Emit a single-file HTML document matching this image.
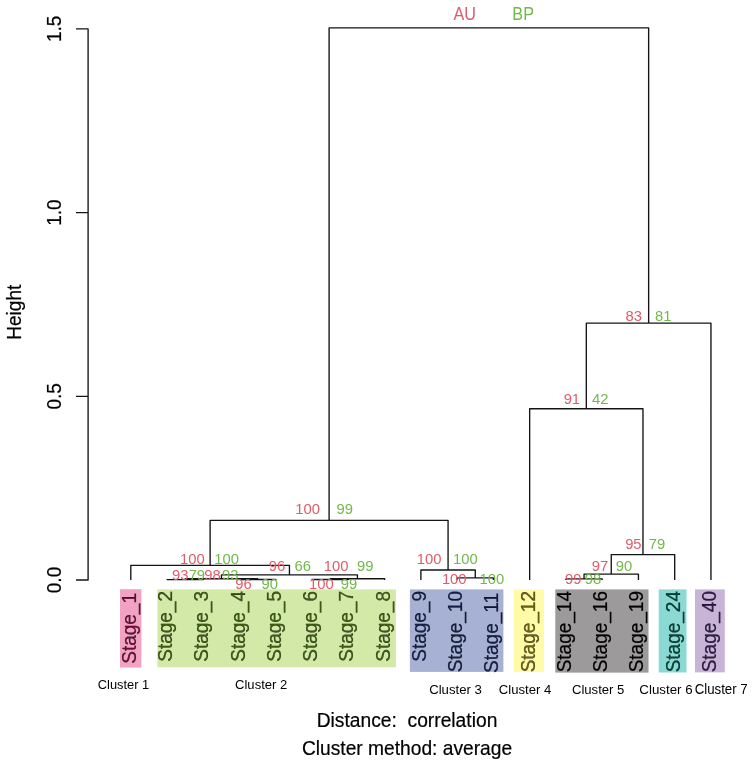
<!DOCTYPE html><html><head><meta charset="utf-8"><style>html,body{margin:0;padding:0;background:#fff;}svg{display:block;will-change:transform;}text{font-family:"Liberation Sans",sans-serif;}.d{stroke:#000;stroke-width:0.2px;}</style></head><body>
<svg width="754" height="767" viewBox="0 0 754 767">
<rect x="120.0" y="589.2" width="21.40" height="78.40" fill="#F4A2C4"/>
<rect x="157.4" y="589.4" width="238.50" height="77.90" fill="#D3E9A8"/>
<rect x="409.9" y="589.4" width="93.50" height="82.50" fill="#A6B1D4"/>
<rect x="513.7" y="589.4" width="30.30" height="82.50" fill="#FFFBA6"/>
<rect x="555.3" y="589.4" width="93.20" height="83.20" fill="#9C9A9B"/>
<rect x="658.7" y="589.4" width="27.80" height="83.10" fill="#8ADAD3"/>
<rect x="695.0" y="589.4" width="29.80" height="83.00" fill="#C8B4D7"/>
<path d="M167.06 580.00V579.60H203.32V580.00M239.58 580.00V579.50H275.84V580.00M185.19 579.60V578.70H257.71V579.50M312.10 580.00V579.50H348.36V580.00M330.23 579.50V578.70H384.62V580.00M221.45 578.70V574.90H357.43V578.70M130.80 580.00V565.35H289.44V574.90M457.14 580.00V577.80H493.40V580.00M420.88 580.00V570.00H475.27V577.80M210.12 565.35V520.35H448.07V570.00M565.92 580.00V578.90H602.18V580.00M584.05 578.90V574.10H638.44V580.00M611.25 574.10V554.60H674.70V580.00M529.66 580.00V408.70H642.97V554.60M586.32 408.70V323.15H710.96V580.00M329.10 520.35V27.90H648.64V323.15" fill="none" stroke="#141414" stroke-width="1.35" stroke-linecap="butt" stroke-linejoin="round"/>
<path d="M76 28.9H88.1V580.0H76M88.1 212.6H76M88.1 396.3H76" fill="none" stroke="#141414" stroke-width="1.35" stroke-linejoin="round"/>
<text transform="translate(60.8 28.9) rotate(-90) scale(1 1.05)" text-anchor="middle" font-size="19" class="d">1.5</text>
<text transform="translate(60.8 212.6) rotate(-90) scale(1 1.05)" text-anchor="middle" font-size="19" class="d">1.0</text>
<text transform="translate(60.8 396.3) rotate(-90) scale(1 1.05)" text-anchor="middle" font-size="19" class="d">0.5</text>
<text transform="translate(60.8 580.0) rotate(-90) scale(1 1.05)" text-anchor="middle" font-size="19" class="d">0.0</text>
<text transform="translate(20.7 312.2) rotate(-90) scale(1 1.05)" text-anchor="middle" font-size="19.1" class="d">Height</text>
<text transform="translate(135.80 593.0) rotate(-90) scale(1 1.05)" text-anchor="end" font-size="19" fill="#6A1038" stroke="#6A1038" class="d">Stage_1</text>
<text transform="translate(172.06 591) rotate(-90) scale(1 1.05)" text-anchor="end" font-size="19" fill="#3D5C14" stroke="#3D5C14" class="d">Stage_2</text>
<text transform="translate(208.32 591) rotate(-90) scale(1 1.05)" text-anchor="end" font-size="19" fill="#3D5C14" stroke="#3D5C14" class="d">Stage_3</text>
<text transform="translate(244.58 591) rotate(-90) scale(1 1.05)" text-anchor="end" font-size="19" fill="#3D5C14" stroke="#3D5C14" class="d">Stage_4</text>
<text transform="translate(280.84 591) rotate(-90) scale(1 1.05)" text-anchor="end" font-size="19" fill="#3D5C14" stroke="#3D5C14" class="d">Stage_5</text>
<text transform="translate(317.10 591) rotate(-90) scale(1 1.05)" text-anchor="end" font-size="19" fill="#3D5C14" stroke="#3D5C14" class="d">Stage_6</text>
<text transform="translate(353.36 591) rotate(-90) scale(1 1.05)" text-anchor="end" font-size="19" fill="#3D5C14" stroke="#3D5C14" class="d">Stage_7</text>
<text transform="translate(389.62 591) rotate(-90) scale(1 1.05)" text-anchor="end" font-size="19" fill="#3D5C14" stroke="#3D5C14" class="d">Stage_8</text>
<text transform="translate(425.88 591) rotate(-90) scale(1 1.05)" text-anchor="end" font-size="19" fill="#141E46" stroke="#141E46" class="d">Stage_9</text>
<text transform="translate(462.14 591) rotate(-90) scale(1 1.05)" text-anchor="end" font-size="19" fill="#141E46" stroke="#141E46" class="d">Stage_10</text>
<text transform="translate(498.40 593.0) rotate(-90) scale(1 1.05)" text-anchor="end" font-size="19" fill="#141E46" stroke="#141E46" class="d">Stage_11</text>
<text transform="translate(534.66 591) rotate(-90) scale(1 1.05)" text-anchor="end" font-size="19" fill="#6B6216" stroke="#6B6216" class="d">Stage_12</text>
<text transform="translate(570.92 591) rotate(-90) scale(1 1.05)" text-anchor="end" font-size="19" fill="#000000" stroke="#000000" class="d">Stage_14</text>
<text transform="translate(607.18 591) rotate(-90) scale(1 1.05)" text-anchor="end" font-size="19" fill="#000000" stroke="#000000" class="d">Stage_16</text>
<text transform="translate(643.44 591) rotate(-90) scale(1 1.05)" text-anchor="end" font-size="19" fill="#000000" stroke="#000000" class="d">Stage_19</text>
<text transform="translate(679.70 591) rotate(-90) scale(1 1.05)" text-anchor="end" font-size="19" fill="#00463C" stroke="#00463C" class="d">Stage_24</text>
<text transform="translate(715.96 591) rotate(-90) scale(1 1.05)" text-anchor="end" font-size="19" fill="#33194C" stroke="#33194C" class="d">Stage_40</text>
<text transform="translate(476.05 19.50) scale(0.91 1)" text-anchor="end" font-size="17.80" fill="#E05C6A">AU</text>
<text x="641.95" y="321.00" text-anchor="end" font-size="14.80" fill="#E05C6A">83</text>
<text x="580.12" y="404.10" text-anchor="end" font-size="14.80" fill="#E05C6A">91</text>
<text x="319.98" y="513.90" text-anchor="end" font-size="14.80" fill="#E05C6A">100</text>
<text x="641.62" y="548.90" text-anchor="end" font-size="14.80" fill="#E05C6A">95</text>
<text x="204.78" y="564.10" text-anchor="end" font-size="14.80" fill="#E05C6A">100</text>
<text x="441.38" y="563.50" text-anchor="end" font-size="14.80" fill="#E05C6A">100</text>
<text x="285.25" y="570.70" text-anchor="end" font-size="14.80" fill="#E05C6A">96</text>
<text x="348.48" y="570.80" text-anchor="end" font-size="14.80" fill="#E05C6A">100</text>
<text x="608.24" y="571.10" text-anchor="end" font-size="14.80" fill="#E05C6A">97</text>
<text x="188.45" y="580.00" text-anchor="end" font-size="14.80" fill="#E05C6A">93</text>
<text x="220.84" y="580.00" text-anchor="end" font-size="14.80" fill="#E05C6A">98</text>
<text x="251.75" y="589.30" text-anchor="end" font-size="14.80" fill="#E05C6A">96</text>
<text x="333.68" y="589.30" text-anchor="end" font-size="14.80" fill="#E05C6A">100</text>
<text x="466.58" y="583.70" text-anchor="end" font-size="14.80" fill="#E05C6A">100</text>
<text x="581.40" y="584.40" text-anchor="end" font-size="14.80" fill="#E05C6A">99</text>
<text transform="translate(512.37 19.50) scale(0.91 1)" text-anchor="start" font-size="17.80" fill="#72B94A">BP</text>
<text x="654.96" y="321.00" text-anchor="start" font-size="14.80" fill="#72B94A">81</text>
<text x="591.96" y="404.10" text-anchor="start" font-size="14.80" fill="#72B94A">42</text>
<text x="336.41" y="513.90" text-anchor="start" font-size="14.80" fill="#72B94A">99</text>
<text x="648.74" y="548.90" text-anchor="start" font-size="14.80" fill="#72B94A">79</text>
<text x="214.27" y="564.10" text-anchor="start" font-size="14.80" fill="#72B94A">100</text>
<text x="452.97" y="563.50" text-anchor="start" font-size="14.80" fill="#72B94A">100</text>
<text x="294.45" y="570.70" text-anchor="start" font-size="14.80" fill="#72B94A">66</text>
<text x="356.91" y="570.80" text-anchor="start" font-size="14.80" fill="#72B94A">99</text>
<text x="615.81" y="571.10" text-anchor="start" font-size="14.80" fill="#72B94A">90</text>
<text x="188.64" y="580.00" text-anchor="start" font-size="14.80" fill="#72B94A">79</text>
<text x="222.11" y="580.00" text-anchor="start" font-size="14.80" fill="#72B94A">93</text>
<text x="261.51" y="589.30" text-anchor="start" font-size="14.80" fill="#72B94A">90</text>
<text x="340.71" y="589.30" text-anchor="start" font-size="14.80" fill="#72B94A">99</text>
<text x="479.47" y="583.70" text-anchor="start" font-size="14.80" fill="#72B94A">100</text>
<text x="584.71" y="584.40" text-anchor="start" font-size="14.80" fill="#72B94A">98</text>
<text transform="translate(97.85 689.1) scale(0.939 1)" font-size="13.7">Cluster 1</text>
<text transform="translate(235.04 689.0) scale(0.954 1)" font-size="13.7">Cluster 2</text>
<text transform="translate(429.13 693.6) scale(0.962 1)" font-size="13.7">Cluster 3</text>
<text transform="translate(498.83 693.8) scale(0.959 1)" font-size="13.7">Cluster 4</text>
<text transform="translate(571.93 693.9) scale(0.958 1)" font-size="13.7">Cluster 5</text>
<text transform="translate(639.32 694.0) scale(0.973 1)" font-size="13.7">Cluster 6</text>
<text transform="translate(694.63 694.0) scale(0.968 1)" font-size="13.7">Cluster 7</text>
<text transform="translate(407 726.9) scale(1 1.05)" text-anchor="middle" font-size="19.25" xml:space="preserve" style="white-space:pre" class="d">Distance:  correlation</text>
<text transform="translate(407 755.3) scale(1 1.05)" text-anchor="middle" font-size="19.2" class="d">Cluster method: average</text>
</svg></body></html>
